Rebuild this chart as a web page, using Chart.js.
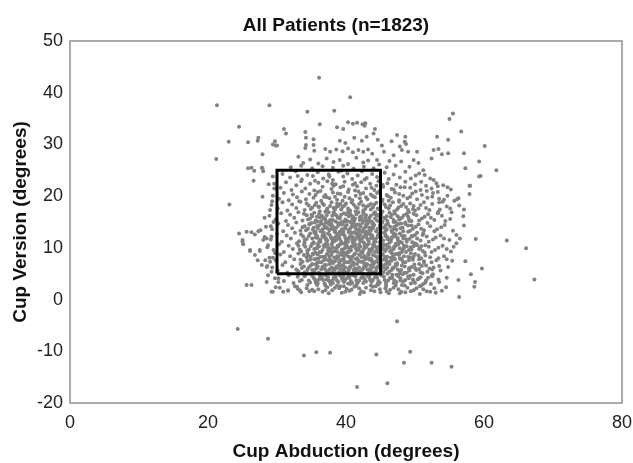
<!DOCTYPE html>
<html>
<head>
<meta charset="utf-8">
<script src="https://cdn.jsdelivr.net/npm/chart.js@4"></script>
<style>
  body { margin: 0; background: #fff; }
  canvas { display: block; }
</style>
</head>
<body>
<canvas id="chart" width="633" height="463"></canvas>
<script>
// values: [cup abduction, cup version] in degrees
const sparsePoints = [
  [36.1,42.9],[40.6,39.1],[21.3,37.6],[28.9,37.6],[38.3,36.5],[34.4,36.3],[55.5,36.0],[55.0,34.9],
  [24.5,33.4],[31.0,33.0],[31.3,32.1],[36.2,33.9],[38.7,33.3],[39.6,33.0],[40.3,34.3],[41.0,34.0],
  [41.6,34.2],[42.4,33.9],[42.7,33.6],[42.8,34.1],[44.0,32.1],[56.7,32.5],[53.2,31.5],[54.8,30.9],
  [60.1,29.7],[48.6,31.5],[48.5,30.5],[48.7,30.1],[45.2,29.8],[50.3,28.6],[49.0,28.6],[49.8,27.0],
  [47.8,29.6],[48.1,28.9],[52.7,28.9],[53.4,29.1],[53.9,28.1],[52.4,27.3],[54.8,28.3],[57.1,28.3],
  [59.3,26.7],[61.8,25.0],[57.3,25.4],[59.3,23.8],[58.0,22.0],[59.5,23.9],[57.9,22.0],[57.1,17.4],
  [23.0,30.5],[25.8,30.4],[27.2,30.7],[29.4,30.0],[30.0,29.8],[34.1,32.4],[34.2,31.3],[35.3,31.0],
  [34.2,29.9],[35.3,29.9],[21.2,27.2],[27.9,28.1],[26.3,25.5],[27.8,25.5],[28.0,24.8],[26.6,23.0],
  [27.3,31.3],[29.7,30.6],[29.8,29.8],[39.1,30.7],[39.9,30.3],[42.3,30.7],[43.0,31.5],[41.2,31.3],
  [34.1,29.3],[35.4,28.8],[37.0,29.1],[37.7,28.6],[38.6,29.0],[39.5,28.7],[40.3,29.2],[41.0,28.5],
  [41.8,28.9],[42.5,28.6],[43.2,29.0],[33.1,27.6],[33.8,26.4],[34.8,27.1],[36.0,26.3],[37.2,27.3],
  [38.2,26.6],[39.1,27.0],[40.3,26.2],[41.5,27.4],[42.5,26.5],[43.2,26.9],[32.0,25.6],[33.5,25.9],
  [35.1,25.4],[36.6,25.8],[38.1,25.5],[39.6,25.9],[41.1,25.3],[42.6,25.7],[44.0,25.4],[44.8,26.1],
  [43.8,28.2],[44.5,27.0],[45.5,28.6],[46.3,26.8],[46.9,27.9],[45.9,25.6],[47.2,25.9],[48.0,26.7],
  [49.2,25.7],[50.5,26.4],[46.6,30.6],[44.6,30.9],[47.4,31.8],[25.8,25.4],[27.9,25.4],[44.2,33.0],
  [51.2,25.0],[50.6,24.4],[51.4,24.1],[52.2,23.4],[52.7,23.1],[53.1,22.5],[54.1,22.1],[54.7,21.7],
  [56.3,19.6],[55.7,19.1],[55.1,17.6],[55.3,16.9],[54.0,18.9],[53.5,18.8],[53.4,17.0],[57.9,20.4],
  [58.8,11.7],[63.3,11.4],[66.1,9.9],[67.3,3.9],[59.7,6.0],[57.3,7.4],[56.3,3.8],[56.4,0.5],
  [58.1,4.9],[58.7,3.4],[58.6,2.5],[56.0,12.5],[56.5,11.8],[56.0,10.9],[55.6,10.2],[57.1,14.3],
  [24.3,-5.7],[28.7,-7.6],[33.9,-10.8],[35.7,-10.2],[37.7,-10.3],[44.4,-10.6],[41.6,-16.9],
  [46.0,-16.2],[47.4,-4.2],[49.3,-10.1],[48.4,-12.2],[52.4,-12.2],[55.3,-13.0],
  [23.1,18.4],[27.9,19.9],[29.0,17.3],[24.5,12.8],[25.6,13.1],[26.3,13.0],[26.8,12.6],[27.3,13.2],
  [27.6,13.4],[25.0,11.5],[25.1,10.7],[28.0,11.5],[28.5,11.8],[29.2,12.2],[28.7,10.5],[26.1,9.6],
  [26.8,8.6],[27.5,9.6],[28.3,7.6],[27.8,6.7],[28.5,6.3],[29.0,7.3],[29.2,5.4],[28.7,4.7],
  [29.7,4.1],[28.5,3.4],[29.2,1.5],[25.6,2.8],[26.3,2.8],[29.4,1.5],[25.0,11.2],[26.1,9.4],
  [27.5,9.4],[27.2,7.6],[28.6,6.5],[29.5,15.0],[29.3,19.0],[29.6,21.5],[28.8,22.3],[29.4,23.8],
  [29.1,14.2],[28.2,15.8],[29.7,9.0],[29.4,8.1],[29.8,2.4],[26.7,24.9],[30.9,1.5],[31.6,1.8],
  [32.9,2.5],[33.3,1.8],[30.2,3.4]
];

const corePoints = [
  // version 23-25
  [30.8,24.3],[31.9,23.6],[32.7,24.8],[33.6,23.2],[34.4,24.1],[35.2,23.9],[35.9,24.6],[36.7,23.4],
  [37.5,24.2],[38.1,23.1],[38.9,24.7],[39.6,23.8],[40.2,24.4],[40.9,23.3],[41.7,24.0],[42.3,24.8],
  [43.0,23.5],[43.8,24.3],[44.5,23.7],[45.6,24.5],[46.2,23.3],[46.9,24.2],[47.8,23.6],[48.6,24.7],
  [49.4,23.4],[50.1,24.0],[35.5,23.0],[39.3,24.9],[42.7,23.2],[33.0,23.9],
  // version 21-23
  [29.6,22.4],[30.5,21.6],[31.3,22.7],[32.1,21.2],[32.8,22.1],[33.5,22.9],[34.1,21.5],[34.8,22.4],
  [35.4,21.1],[36.0,22.6],[36.6,21.8],[37.3,22.9],[37.9,21.4],[38.5,22.3],[39.2,21.7],[39.8,22.8],
  [40.4,21.3],[41.0,22.2],[41.6,21.9],[42.2,22.7],[42.9,21.5],[43.5,22.4],[44.1,21.2],[44.7,22.9],
  [45.4,21.8],[46.0,22.5],[46.6,21.4],[47.3,22.2],[47.9,21.7],[48.6,22.8],[49.3,21.6],[50.0,22.3],
  [50.8,21.2],[51.6,22.0],[52.4,21.5],[53.3,21.9],[55.2,21.3],[38.2,22.0],[41.3,21.1],[44.4,22.0],
  // version 19-21
  [29.4,20.1],[30.3,19.5],[31.0,20.6],[31.7,19.2],[32.3,20.3],[32.9,19.8],[33.6,20.9],[34.2,19.4],
  [34.7,20.4],[35.3,19.7],[35.9,20.8],[36.4,19.1],[37.0,20.2],[37.6,19.6],[38.1,20.7],[38.7,19.3],
  [39.2,20.4],[39.8,19.9],[40.3,20.8],[40.9,19.2],[41.4,20.1],[42.0,19.6],[42.5,20.6],[43.1,19.4],
  [43.6,20.3],[44.2,19.8],[44.8,20.9],[45.3,19.3],[45.9,20.2],[46.5,19.7],[47.1,20.7],[47.7,19.2],
  [48.3,20.1],[48.9,19.6],[49.6,20.5],[50.3,19.4],[51.0,20.2],[51.8,19.7],[52.6,20.6],[53.5,19.5],
  [54.7,20.1],[56.1,19.4],[36.8,19.9],[39.5,19.1],[41.8,20.9],[43.9,20.0],[46.2,19.1],[33.2,19.0],
  [35.6,20.2],[38.4,19.9],
  // version 17-19
  [29.2,18.3],[30.1,17.6],[30.8,18.8],[31.5,17.2],[32.2,18.4],[32.8,17.7],[33.4,18.9],[34.0,17.3],
  [34.6,18.2],[35.1,17.8],[35.7,18.7],[36.2,17.1],[36.8,18.3],[37.3,17.6],[37.9,18.8],[38.4,17.4],
  [38.9,18.1],[39.5,17.9],[40.0,18.6],[40.6,17.2],[41.1,18.4],[41.7,17.7],[42.2,18.9],[42.8,17.5],
  [43.3,18.2],[43.9,17.8],[44.4,18.7],[45.0,17.3],[45.6,18.4],[46.2,17.6],[46.8,18.8],[47.4,17.4],
  [48.0,18.1],[48.7,17.9],[49.3,18.6],[50.0,17.2],[50.8,18.3],[51.6,17.7],[52.5,18.5],[53.6,17.4],
  [54.6,18.0],[56.4,18.2],[37.0,17.0],[39.2,18.5],[41.4,17.1],[43.6,18.5],[45.3,17.0],[47.7,18.9],
  [40.3,17.6],[42.5,18.2],[44.7,17.5],[36.0,18.0],[38.6,17.9],[34.3,18.6],[49.7,17.5],
  // version 15-17
  [28.9,16.2],[29.8,15.5],[30.6,16.7],[31.3,15.2],[31.9,16.4],[32.5,15.8],[33.1,16.9],[33.7,15.3],
  [34.3,16.3],[34.8,15.7],[35.4,16.8],[35.9,15.1],[36.5,16.2],[37.0,15.6],[37.5,16.9],[38.1,15.4],
  [38.6,16.3],[39.1,15.9],[39.7,16.7],[40.2,15.2],[40.7,16.4],[41.3,15.7],[41.8,16.9],[42.3,15.5],
  [42.9,16.3],[43.4,15.8],[44.0,16.6],[44.5,15.3],[45.1,16.4],[45.7,15.7],[46.3,16.8],[46.9,15.4],
  [47.5,16.1],[48.1,15.8],[48.8,16.6],[49.5,15.2],[50.2,16.3],[51.0,15.7],[51.9,16.5],[52.8,15.4],
  [53.9,16.2],[55.1,15.6],[57.0,16.1],[36.2,15.9],[38.3,16.6],[39.9,15.5],[41.0,16.0],[42.6,16.6],
  [43.7,15.1],[44.8,16.0],[47.2,15.0],[35.1,16.1],[37.8,15.2],[40.5,16.9],[46.0,15.2],[33.9,16.6],
  [49.1,16.9],[39.4,15.0],[42.0,15.4],[44.2,16.9],
  // version 13-15
  [28.4,14.1],[29.3,13.6],[30.2,14.7],[30.9,13.2],[31.6,14.4],[32.2,13.8],[32.8,14.9],[33.4,13.3],
  [34.0,14.2],[34.5,13.7],[35.0,14.8],[35.6,13.1],[36.1,14.3],[36.6,13.6],[37.1,14.9],[37.6,13.4],
  [38.1,14.1],[38.6,13.9],[39.1,14.7],[39.6,13.2],[40.1,14.4],[40.6,13.7],[41.1,14.9],[41.6,13.5],
  [42.1,14.2],[42.6,13.8],[43.1,14.6],[43.6,13.3],[44.1,14.4],[44.6,13.7],[45.2,14.8],[45.8,13.4],
  [46.4,14.1],[47.0,13.8],[47.6,14.6],[48.3,13.2],[49.0,14.3],[49.7,13.7],[50.5,14.5],[51.3,13.4],
  [52.2,14.2],[53.2,13.6],[54.3,14.4],[55.5,13.3],[38.4,13.0],[40.8,14.1],[42.9,13.1],[44.9,14.0],
  [46.7,13.0],[36.9,13.9],[39.4,14.5],[41.9,13.1],[43.9,14.0],[35.3,13.9],[37.9,14.6],[40.4,13.0],
  [42.4,14.8],[45.5,14.0],[48.6,14.9],[34.7,14.5],[39.9,13.8],[41.4,14.3],[43.4,13.9],[36.4,14.7],
  [47.3,13.5],
  // version 11-13
  [28.2,12.1],[29.1,11.6],[30.0,12.7],[30.7,11.2],[31.4,12.4],[32.0,11.8],[32.6,12.9],[33.2,11.3],
  [33.8,12.2],[34.3,11.7],[34.8,12.8],[35.3,11.1],[35.8,12.3],[36.3,11.6],[36.8,12.9],[37.3,11.4],
  [37.8,12.1],[38.3,11.9],[38.8,12.7],[39.3,11.2],[39.8,12.4],[40.3,11.7],[40.8,12.9],[41.3,11.5],
  [41.8,12.2],[42.3,11.8],[42.8,12.6],[43.3,11.3],[43.8,12.4],[44.3,11.7],[44.8,12.8],[45.4,11.4],
  [46.0,12.1],[46.6,11.8],[47.2,12.6],[47.8,11.2],[48.5,12.3],[49.2,11.7],[50.0,12.5],[50.8,11.4],
  [51.7,12.2],[52.6,11.6],[53.7,12.4],[55.0,11.5],[38.0,11.0],[40.5,12.0],[42.6,11.0],[44.6,12.1],
  [46.3,11.0],[37.1,11.8],[39.6,12.9],[41.6,12.0],[43.6,11.9],[45.7,12.7],[48.1,11.0],[35.6,12.0],
  [38.6,11.5],[41.0,11.1],[43.1,12.9],[45.1,12.0],[47.5,11.5],[36.6,12.5],[39.0,12.1],[42.1,12.5],
  [44.1,11.1],[46.9,12.3],[49.6,11.1],[34.0,11.0],[51.2,12.8],[40.0,11.4],
  // version 9-11
  [28.6,10.1],[29.5,9.6],[30.3,10.7],[31.0,9.2],[31.7,10.4],[32.3,9.8],[32.9,10.9],[33.5,9.3],
  [34.1,10.2],[34.6,9.7],[35.1,10.8],[35.6,9.1],[36.1,10.3],[36.6,9.6],[37.1,10.9],[37.6,9.4],
  [38.1,10.1],[38.6,9.9],[39.1,10.7],[39.6,9.2],[40.1,10.4],[40.6,9.7],[41.1,10.9],[41.6,9.5],
  [42.1,10.2],[42.6,9.8],[43.1,10.6],[43.6,9.3],[44.1,10.4],[44.6,9.7],[45.1,10.8],[45.7,9.4],
  [46.3,10.1],[46.9,9.8],[47.5,10.6],[48.1,9.2],[48.8,10.3],[49.5,9.7],[50.3,10.5],[51.1,9.4],
  [52.0,10.2],[52.9,9.6],[54.0,10.4],[55.2,9.3],[37.9,9.0],[40.3,10.0],[42.4,9.0],[44.4,10.1],
  [46.6,9.0],[36.8,10.5],[39.4,9.5],[41.8,10.0],[43.8,9.9],[45.4,10.3],[47.8,9.0],[35.8,10.0],
  [38.8,9.2],[41.3,10.5],[43.3,9.1],[45.9,10.6],[48.4,9.9],[37.4,10.1],[39.8,10.9],[42.9,10.3],
  [44.9,9.2],[47.1,10.3],[50.7,9.9],[34.4,9.0],[33.1,10.4],[49.9,10.9],
  // version 7-9
  [28.9,8.1],[29.8,7.6],[30.5,8.7],[31.2,7.2],[31.9,8.4],[32.5,7.8],[33.1,8.9],[33.7,7.3],
  [34.3,8.2],[34.8,7.7],[35.3,8.8],[35.8,7.1],[36.3,8.3],[36.8,7.6],[37.3,8.9],[37.8,7.4],
  [38.3,8.1],[38.8,7.9],[39.3,8.7],[39.8,7.2],[40.3,8.4],[40.8,7.7],[41.3,8.9],[41.8,7.5],
  [42.3,8.2],[42.8,7.8],[43.3,8.6],[43.8,7.3],[44.3,8.4],[44.8,7.7],[45.3,8.8],[45.9,7.4],
  [46.5,8.1],[47.1,7.8],[47.7,8.6],[48.3,7.2],[49.0,8.3],[49.7,7.7],[50.5,8.5],[51.3,7.4],
  [52.2,8.2],[53.1,7.6],[54.2,8.4],[55.4,7.5],[38.1,7.0],[40.6,8.0],[42.6,7.0],[44.6,8.1],
  [46.2,7.0],[37.0,8.0],[39.6,8.5],[41.6,8.0],[43.6,7.9],[45.6,8.3],[48.0,7.9],[36.0,7.9],
  [39.0,7.2],[41.1,7.1],[43.1,8.0],[45.0,7.1],[47.4,7.0],[37.6,8.4],[40.0,8.9],[42.0,8.6],
  [44.0,7.0],[46.8,8.7],[49.4,8.9],[34.5,8.6],[50.9,8.0],[39.3,7.6],
  // version 5-7
  [29.3,6.2],[30.1,5.6],[30.8,6.7],[31.5,5.2],[32.2,6.4],[32.8,5.8],[33.4,6.9],[34.0,5.3],
  [34.6,6.2],[35.1,5.7],[35.6,6.8],[36.1,5.1],[36.6,6.3],[37.1,5.6],[37.6,6.9],[38.1,5.4],
  [38.6,6.1],[39.1,5.9],[39.6,6.7],[40.1,5.2],[40.6,6.4],[41.1,5.7],[41.6,6.9],[42.1,5.5],
  [42.6,6.2],[43.1,5.8],[43.6,6.6],[44.1,5.3],[44.6,6.4],[45.1,5.7],[45.7,6.8],[46.3,5.4],
  [46.9,6.1],[47.5,5.8],[48.1,6.6],[48.8,5.2],[49.5,6.3],[50.2,5.7],[51.0,6.5],[51.8,5.4],
  [52.7,6.2],[53.7,5.6],[54.8,6.3],[37.9,5.0],[40.4,6.0],[42.4,5.0],[44.4,6.1],[46.0,5.0],
  [36.9,6.0],[39.4,6.5],[41.4,6.0],[43.4,5.9],[45.4,6.3],[47.8,5.1],[35.8,6.1],[38.9,5.2],
  [41.0,5.1],[42.9,6.9],[45.0,5.1],[47.2,6.9],[49.1,5.9],[33.6,6.1],[50.6,6.9],[44.0,6.9],
  [39.8,5.5],
  // version 3-5
  [30.2,4.1],[31.0,3.6],[31.7,4.7],[32.4,3.2],[33.0,4.4],[33.6,3.8],[34.2,4.9],[34.8,3.3],
  [35.3,4.2],[35.9,3.7],[36.4,4.8],[36.9,3.1],[37.4,4.3],[37.9,3.6],[38.4,4.9],[38.9,3.4],
  [39.4,4.1],[39.9,3.9],[40.4,4.7],[40.9,3.2],[41.4,4.4],[41.9,3.7],[42.4,4.9],[42.9,3.5],
  [43.4,4.2],[43.9,3.8],[44.4,4.6],[44.9,3.3],[45.5,4.4],[46.1,3.7],[46.7,4.8],[47.3,3.4],
  [47.9,4.1],[48.6,3.8],[49.3,4.6],[50.0,3.2],[50.8,4.3],[51.6,3.7],[52.5,4.5],[53.5,3.4],
  [54.6,4.2],[38.2,4.0],[40.6,3.0],[42.7,4.0],[44.6,3.1],[46.4,4.1],[37.2,3.9],[39.6,4.5],
  [41.6,3.1],[43.6,4.9],[45.8,3.0],[48.2,4.9],[36.2,4.0],[49.7,3.9],[51.2,3.0],
  // version 1-3
  [30.4,2.3],[31.6,1.7],[32.6,2.6],[33.5,1.4],[34.3,2.2],[35.1,1.9],[35.8,2.8],[36.6,1.5],
  [37.3,2.4],[38.0,1.8],[38.7,2.7],[39.4,1.3],[40.1,2.1],[40.8,1.9],[41.5,2.8],[42.2,1.6],
  [42.9,2.3],[43.6,1.8],[44.3,2.6],[45.0,1.4],[45.7,2.2],[46.4,1.9],[47.2,2.7],[48.0,1.5],
  [48.9,2.3],[49.8,1.8],[50.7,2.6],[51.7,1.6],[52.8,2.2],[53.9,1.7],[37.8,2.9],[41.2,2.5],
  [44.7,2.9],[47.6,2.0],[39.0,2.2]
];

// the darker part of the cloud, points that sit between the ones above
const densePoints = [
  // version 19-23
  [36.3,21.0],[37.2,19.8],[38.0,22.4],[38.8,20.5],[39.6,21.9],[40.5,19.6],[41.3,22.5],[42.1,20.4],
  [42.9,19.8],[43.7,21.6],[44.5,20.6],[45.3,22.2],[46.1,20.0],[46.9,21.3],[47.7,20.4],[48.5,21.7],
  [49.3,19.9],[50.1,20.9],[50.9,22.8],[51.7,21.0],[52.5,19.9],[53.3,20.8],[54.2,19.3],[37.6,23.8],
  [44.9,23.0],
  // version 17-19
  [34.9,17.5],[35.5,18.3],[36.1,17.9],[36.6,18.6],[37.2,17.3],[37.7,18.1],[38.2,17.7],[38.7,18.6],
  [39.3,17.4],[39.8,18.2],[40.3,17.0],[40.8,18.8],[41.4,17.9],[41.9,18.5],[42.5,17.2],[43.0,18.0],
  [43.6,17.4],[44.1,18.4],[44.6,17.6],[45.2,18.9],[45.8,17.9],[46.4,18.2],[47.0,17.1],[47.6,17.8],
  [48.3,18.5],[49.0,17.3],[49.8,18.1],[50.5,17.6],[51.3,18.8],[52.1,17.3],
  // version 15-17
  [34.5,15.5],[35.0,16.4],[35.6,15.3],[36.1,16.6],[36.7,15.8],[37.2,16.3],[37.7,15.4],[38.2,16.9],
  [38.8,15.8],[39.3,16.4],[39.8,15.1],[40.4,16.1],[40.9,15.6],[41.5,16.5],[42.0,15.9],[42.5,16.8],
  [43.1,15.3],[43.6,16.2],[44.2,15.7],[44.7,16.4],[45.3,15.1],[45.9,16.1],[46.5,15.9],[47.1,16.6],
  [47.7,15.5],[48.4,16.3],[49.1,15.6],[49.8,16.6],[50.6,15.3],[51.4,16.0],[52.3,15.8],[53.3,16.7],
  [54.4,15.2],[37.4,15.0],[42.8,15.9],
  // version 13-15
  [33.7,14.0],[34.2,13.4],[34.7,14.6],[35.2,13.5],[35.8,14.2],[36.3,13.2],[36.8,14.5],[37.3,13.8],
  [37.8,14.3],[38.3,13.5],[38.8,14.8],[39.4,13.6],[39.9,14.2],[40.4,13.4],[40.9,14.7],[41.4,13.8],
  [41.9,14.5],[42.4,13.3],[42.9,14.1],[43.4,13.6],[43.9,14.8],[44.4,13.2],[44.9,14.4],[45.5,13.9],
  [46.1,14.6],[46.7,13.4],[47.3,14.3],[47.9,13.8],[48.6,14.6],[49.3,13.3],[50.1,14.1],[50.9,13.7],
  [51.8,14.8],[52.8,13.2],[53.8,14.0],[39.1,13.1],[41.2,13.0],[43.2,14.9],[45.0,13.5],[37.1,14.0],
  // version 11-13
  [33.5,12.6],[34.0,11.5],[34.6,12.3],[35.1,11.8],[35.6,12.7],[36.1,11.2],[36.6,12.2],[37.1,11.6],
  [37.6,12.6],[38.1,11.4],[38.6,12.3],[39.1,11.7],[39.6,12.6],[40.1,11.2],[40.6,12.3],[41.1,11.9],
  [41.6,12.7],[42.1,11.3],[42.6,12.1],[43.1,11.7],[43.6,12.6],[44.1,11.4],[44.6,12.4],[45.1,11.7],
  [45.7,12.3],[46.3,11.5],[46.9,12.8],[47.5,11.9],[48.1,12.4],[48.8,11.6],[49.5,12.3],[50.3,11.8],
  [51.1,12.5],[52.0,11.2],[53.0,12.0],[54.2,11.8],[38.9,12.0],[40.9,11.5],[42.9,12.4],[44.9,11.1],
  [36.9,12.0],[46.6,12.0],
  // version 9-11
  [33.3,9.7],[33.9,10.6],[34.4,9.5],[34.9,10.3],[35.4,9.8],[35.9,10.7],[36.4,9.2],[36.9,10.2],
  [37.4,9.6],[37.9,10.6],[38.4,9.4],[38.9,10.3],[39.4,9.7],[39.9,10.6],[40.4,9.2],[40.9,10.3],
  [41.4,9.9],[41.9,10.7],[42.4,9.3],[42.9,10.1],[43.4,9.7],[43.9,10.6],[44.4,9.4],[44.9,10.4],
  [45.4,9.7],[46.0,10.3],[46.6,9.5],[47.2,10.8],[47.8,9.9],[48.4,10.4],[49.1,9.6],[49.8,10.3],
  [50.6,9.8],[51.5,10.5],[52.4,9.2],[53.4,10.0],[54.6,9.8],[38.7,10.0],[40.7,9.5],[42.7,10.4],
  [44.7,9.1],[46.9,10.0],
  // version 7-9
  [33.4,7.7],[33.9,8.6],[34.4,7.5],[34.9,8.3],[35.4,7.8],[35.9,8.7],[36.4,7.2],[36.9,8.2],
  [37.4,7.6],[37.9,8.6],[38.4,7.4],[38.9,8.3],[39.4,7.7],[39.9,8.6],[40.4,7.2],[40.9,8.3],
  [41.4,7.9],[41.9,8.7],[42.4,7.3],[42.9,8.1],[43.4,7.7],[43.9,8.6],[44.4,7.4],[44.9,8.4],
  [45.4,7.7],[46.0,8.3],[46.6,7.5],[47.2,8.8],[47.8,7.9],[48.4,8.4],[49.1,7.6],[49.8,8.3],
  [50.6,7.8],[51.5,8.5],[52.4,7.2],[53.4,8.0],[54.6,7.8],[38.7,8.0],[40.7,7.5],[42.7,8.4],
  [44.7,7.1],[46.9,8.0],
  // version 5-7
  [33.1,5.5],[33.9,6.4],[34.4,5.7],[34.9,6.6],[35.4,5.3],[35.9,6.4],[36.4,5.8],[36.9,6.7],
  [37.4,5.3],[37.9,6.2],[38.4,5.7],[38.9,6.6],[39.4,5.4],[39.9,6.2],[40.4,5.6],[40.9,6.8],
  [41.4,5.3],[41.9,6.2],[42.4,5.8],[42.9,6.5],[43.4,5.4],[43.9,6.3],[44.4,5.6],[44.9,6.7],
  [45.4,5.3],[46.0,6.2],[46.6,5.7],[47.2,6.5],[47.8,5.5],[48.5,6.4],[49.2,5.6],[50.0,6.1],
  [50.8,5.3],[51.6,6.6],[52.5,5.8],[53.5,6.5],[38.2,6.0],[41.2,5.9],[43.7,5.1],[46.3,6.9],
  // version 3-5
  [33.3,3.6],[34.0,4.5],[34.6,3.7],[35.1,4.6],[35.6,3.3],[36.2,4.4],[36.7,3.8],[37.2,4.7],
  [37.7,3.3],[38.2,4.2],[38.7,3.7],[39.2,4.6],[39.7,3.4],[40.2,4.2],[40.7,3.6],[41.2,4.8],
  [41.7,3.3],[42.2,4.2],[42.7,3.8],[43.2,4.5],[43.7,3.4],[44.2,4.3],[44.7,3.6],[45.2,4.7],
  [45.8,3.3],[46.4,4.2],[47.0,3.7],[47.6,4.5],[48.3,3.5],[49.0,4.4],[49.8,3.6],[50.6,4.1],
  [51.5,3.3],[52.4,4.6],[53.4,3.9],
  // version 1-3
  [33.0,2.1],[34.7,1.6],[36.0,2.0],[37.0,1.8],[38.4,2.3],[39.7,2.6],[40.5,1.7],[41.9,2.2],
  [42.6,1.4],[43.9,2.5],[44.9,2.0],[45.9,1.6],[46.9,2.3],[47.8,1.2],[48.5,2.7],[49.4,1.6],
  [50.2,2.2],[51.2,2.0],[52.2,1.5],[54.5,2.4]
];

// the darkest patch, lower half of the zone and just right of it
const peakPoints = [
  [35.8,16.0],[36.9,15.6],[38.0,16.2],[39.1,15.7],[40.0,16.5],[41.2,15.3],[42.2,16.1],[43.3,15.5],
  [44.4,16.3],[45.5,15.8],[46.6,16.4],[47.8,15.6],[49.0,16.0],
  [35.5,14.9],[36.4,15.2],[37.5,14.6],[38.5,15.1],[39.5,14.7],[40.6,15.0],[41.6,14.5],[42.7,15.2],
  [43.8,14.6],[44.8,15.1],[45.8,14.4],[46.9,15.0],[48.0,14.7],[49.2,15.2],
  [35.9,13.8],[36.9,14.2],[37.9,13.7],[38.9,14.3],[39.9,13.9],[40.9,14.2],[41.9,13.6],[42.9,14.4],
  [43.9,13.8],[44.9,14.2],[45.9,13.6],[47.0,14.1],[48.2,13.9],[49.5,14.3],
  [35.4,12.9],[36.4,13.3],[37.4,12.8],[38.4,13.2],[39.4,12.7],[40.4,13.3],[41.4,12.8],[42.4,13.1],
  [43.4,12.7],[44.4,13.2],[45.5,12.9],[46.6,13.3],[47.8,12.8],[49.0,13.1],[50.3,12.9],
  [35.9,11.9],[36.9,12.3],[37.9,11.8],[38.9,12.4],[39.9,11.9],[40.9,12.2],[41.9,11.7],[42.9,12.3],
  [43.9,11.9],[44.9,12.3],[46.0,11.7],[47.1,12.2],[48.3,11.8],[49.6,12.2],
  [35.3,10.9],[36.3,11.2],[37.3,10.7],[38.3,11.3],[39.3,10.8],[40.3,11.2],[41.3,10.7],[42.3,11.3],
  [43.3,10.8],[44.3,11.2],[45.4,10.7],[46.5,11.3],[47.6,10.8],[48.8,11.2],[50.1,10.8],
  [35.8,9.9],[36.8,10.3],[37.8,9.8],[38.8,10.4],[39.8,9.9],[40.8,10.2],[41.8,9.7],[42.8,10.3],
  [43.8,9.8],[44.8,10.2],[45.9,9.8],[47.0,10.2],[48.2,9.7],[49.4,10.1],[50.9,10.3],
  [35.2,8.9],[36.2,9.2],[37.2,8.7],[38.2,9.3],[39.2,8.8],[40.2,9.2],[41.2,8.7],[42.2,9.3],
  [43.2,8.8],[44.2,9.2],[45.3,8.7],[46.4,9.3],[47.5,8.8],[48.7,9.2],[50.0,8.8],[51.4,9.1],
  [35.7,7.9],[36.7,8.3],[37.7,7.8],[38.7,8.4],[39.7,7.9],[40.7,8.2],[41.7,7.7],[42.7,8.3],
  [43.7,7.8],[44.7,8.2],[45.8,7.8],[46.9,8.2],[48.1,7.7],[49.3,8.1],[50.7,7.9],
  [35.1,6.9],[36.1,7.2],[37.1,6.7],[38.1,7.3],[39.1,6.8],[40.1,7.2],[41.1,6.7],[42.1,7.3],
  [43.1,6.8],[44.1,7.2],[45.2,6.7],[46.3,7.3],[47.4,6.8],[48.6,7.2],[49.9,6.8],[51.3,7.1],
  [35.6,5.9],[36.6,6.3],[37.6,5.8],[38.6,6.4],[39.6,5.9],[40.6,6.2],[41.6,5.7],[42.6,6.3],
  [43.6,5.8],[44.6,6.2],[45.7,5.8],[46.8,6.2],[48.0,5.7],[49.2,6.1],[50.6,5.9],[52.1,6.0],
  [35.0,4.9],[36.0,5.2],[37.0,4.7],[38.0,5.3],[39.0,4.8],[40.0,5.2],[41.0,4.7],[42.0,5.3],
  [43.0,4.8],[44.0,5.2],[45.1,4.7],[46.2,5.3],[47.3,4.8],[48.5,5.2],[49.8,4.8],[51.1,5.1],[52.6,4.9],
  [35.5,3.9],[36.5,4.2],[37.5,3.7],[38.5,4.3],[39.5,3.8],[40.5,4.2],[41.5,3.7],[42.5,4.3],
  [43.5,3.8],[44.5,4.2],[45.6,3.8],[46.7,4.2],[47.9,3.7],[49.1,4.1],[50.4,3.9],[51.9,4.2],
  [34.4,2.8],[35.9,3.1],[37.0,2.7],[38.1,3.2],[39.2,2.6],[40.3,3.1],[41.4,2.6],[42.5,3.2],
  [43.6,2.7],[44.7,3.1],[45.8,2.6],[46.9,3.2],[48.1,2.8],[49.4,3.1],[50.9,2.7],[52.3,3.0],
  [35.4,1.6],[37.5,1.2],[39.9,1.5],[42.0,1.1],[44.1,1.6],[46.2,1.2],[48.6,1.4],[50.7,1.1],[53.0,1.3]
];

// target zone drawn as a rectangle
const zoneAbduction = [30, 45];
const zoneVersion = [5, 25];

const xTicks = [0, 20, 40, 60, 80];
const yTicks = [-20, -10, 0, 10, 20, 30, 40, 50];

const FONT = "'Liberation Sans', Arial, sans-serif";

const zone = [
  { x: zoneAbduction[0], y: zoneVersion[0] },
  { x: zoneAbduction[0], y: zoneVersion[1] },
  { x: zoneAbduction[1], y: zoneVersion[1] },
  { x: zoneAbduction[1], y: zoneVersion[0] },
  { x: zoneAbduction[0], y: zoneVersion[0] },
];

const patients = sparsePoints
  .concat(corePoints, densePoints, peakPoints)
  .map(([x, y]) => ({ x, y }));

// frame around plot + title
const framePlugin = {
  id: "frame",
  beforeDatasetsDraw(chart) {
    const { ctx, chartArea: a } = chart;
    ctx.save();
    ctx.strokeStyle = "#8f8f8f";
    ctx.lineWidth = 1.5;
    ctx.strokeRect(a.left, a.top, a.right - a.left, a.bottom - a.top);
    ctx.restore();
  },
  afterDraw(chart) {
    const { ctx, chartArea: a } = chart;
    ctx.save();
    ctx.fillStyle = "#111";
    ctx.font = "bold 19px " + FONT;
    ctx.textAlign = "center";
    ctx.textBaseline = "alphabetic";
    ctx.fillText("All Patients (n=1823)", (a.left + a.right) / 2 - 10, 31);
    ctx.restore();
  }
};

new Chart(document.getElementById("chart"), {
  type: "scatter",
  data: {
    datasets: [
      {
        data: zone,
        showLine: true,
        borderColor: "#000",
        borderWidth: 3,
        borderJoinStyle: "miter",
        pointRadius: 0,
        fill: false,
      },
      {
        data: patients,
        pointRadius: 2,
        pointBackgroundColor: "#828282",
        pointBorderWidth: 0,
      }
    ]
  },
  options: {
    responsive: false,
    animation: false,
    devicePixelRatio: 1,
    events: [],
    layout: { padding: { top: 41, right: 11, left: 0, bottom: 0 } },
    plugins: { legend: { display: false }, tooltip: { enabled: false } },
    scales: {
      x: {
        type: "linear",
        min: xTicks[0],
        max: xTicks[xTicks.length - 1],
        afterBuildTicks: s => { s.ticks = xTicks.map(v => ({ value: v })); },
        afterFit: s => { s.height = 60; s.paddingLeft = 0; s.paddingRight = 0; },
        grid: { display: false, drawTicks: false },
        border: { display: false },
        ticks: { padding: 9, color: "#222", font: { family: FONT, size: 18 } },
        title: {
          display: true,
          text: "Cup Abduction (degrees)",
          color: "#111",
          font: { family: FONT, size: 19, weight: "bold" },
          padding: { top: 0, bottom: 0 }
        }
      },
      y: {
        type: "linear",
        min: yTicks[0],
        max: yTicks[yTicks.length - 1],
        afterBuildTicks: s => { s.ticks = yTicks.map(v => ({ value: v })); },
        afterFit: s => { s.width = 70; },
        grid: { display: false, drawTicks: false },
        border: { display: false },
        ticks: { padding: 7, color: "#222", font: { family: FONT, size: 18 } },
        title: {
          display: true,
          text: "Cup Version (degrees)",
          color: "#111",
          font: { family: FONT, size: 19, weight: "bold" },
          padding: { top: 9, bottom: 0 }
        }
      }
    }
  },
  plugins: [framePlugin]
});
</script>
</body>
</html>
